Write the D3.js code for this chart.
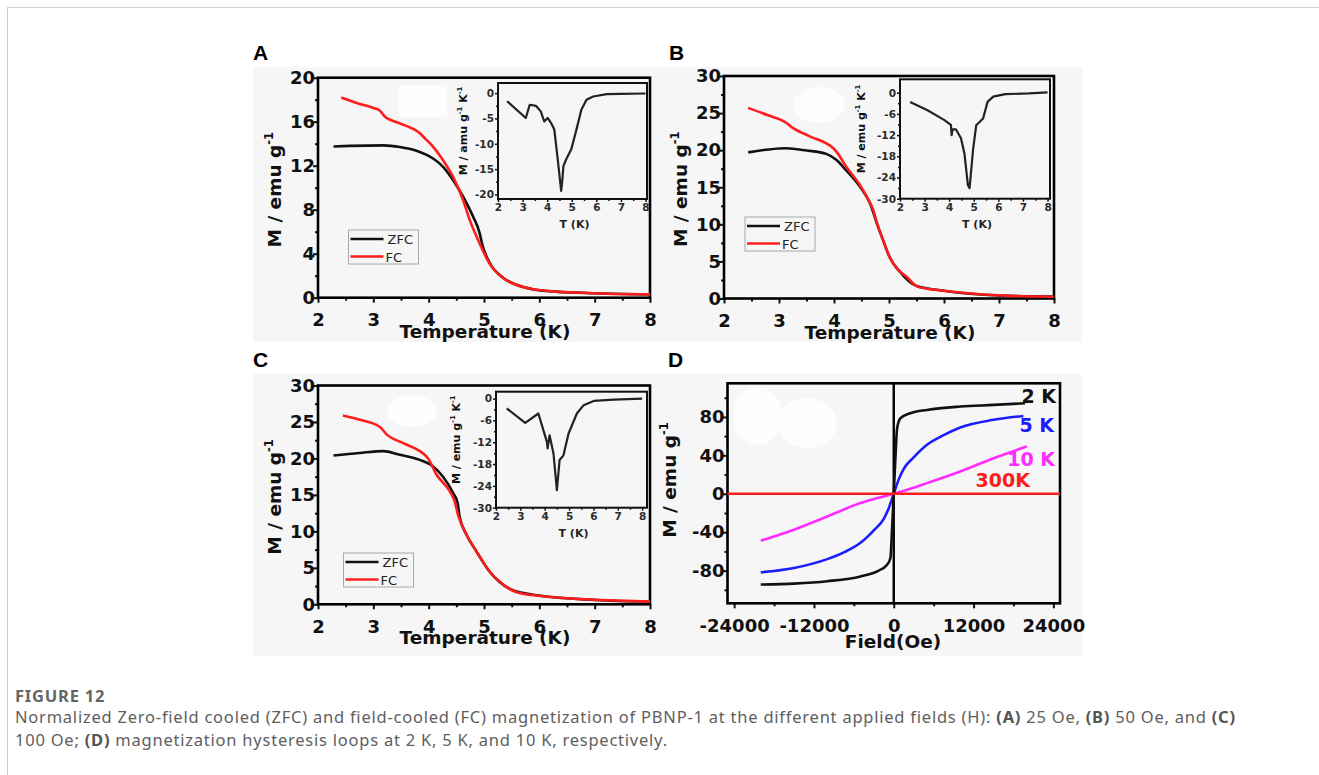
<!DOCTYPE html>
<html>
<head>
<meta charset="utf-8">
<script src="https://cdn.jsdelivr.net/npm/d3@7"></script>
<style>
  body { margin: 0; background: #fff; }
  svg { display: block; }
  .tick text { font-family: "DejaVu Sans", sans-serif; font-weight: bold; fill: #111; }
  .tick line { stroke: #111; }
</style>
</head>
<body>
<svg id="fig" width="1319" height="775"></svg>
<script>
// ---- data ----

// panel A (25 Oe)
const tA_FC = [2.42, 2.7, 3.0, 3.12, 3.2, 3.48, 3.84, 3.93, 4.05, 4.26, 4.44, 4.62, 4.74, 4.92, 5.1, 5.35, 5.59, 5.89, 6.31, 6.8, 7.4, 8.0];
const mA_FC = [18.2, 17.7, 17.25, 17.0, 16.5, 15.85, 14.95, 14.5, 13.9, 12.5, 11.0, 8.9, 7.1, 4.95, 3.1, 1.76, 1.15, 0.76, 0.55, 0.45, 0.33, 0.3];
const tA_ZFC = [2.28, 2.57, 3.18, 3.48, 3.78, 4.08, 4.26, 4.44, 4.62, 4.8, 4.92, 4.97, 5.1, 5.35, 5.6, 5.9, 6.3, 7.0, 8.0];
const mA_ZFC = [13.75, 13.8, 13.85, 13.7, 13.35, 12.65, 11.9, 10.7, 9.2, 7.4, 5.9, 4.8, 3.2, 1.8, 1.15, 0.75, 0.55, 0.4, 0.3];
const tA_ins = [2.37, 3.13, 3.29, 3.54, 3.74, 3.88, 4.02, 4.16, 4.29, 4.43, 4.57, 4.62, 4.66, 4.77, 4.98, 5.19, 5.39, 5.6, 5.87, 6.42, 6.97, 8.0];
const dA_ins = [-1.6, -4.9, -2.3, -2.5, -3.6, -5.6, -4.9, -5.9, -7.2, -13.1, -19.3, -17, -14.4, -13.1, -11.1, -7.2, -3.3, -1.3, -0.66, -0.2, -0.13, -0.07];

// panel B (50 Oe)
const tB_FC = [2.44, 2.8, 3.13, 3.25, 3.55, 3.98, 4.04, 4.22, 4.47, 4.59, 4.71, 4.8, 4.89, 5.01, 5.14, 5.32, 5.5, 5.68, 5.99, 6.6, 7.2, 8.0];
const mB_FC = [25.7, 24.7, 23.7, 23.0, 21.9, 20.3, 19.85, 17.8, 15.3, 13.8, 12.0, 9.7, 7.9, 5.6, 4.06, 2.93, 1.67, 1.35, 1.04, 0.6, 0.36, 0.23];
const tB_ZFC = [2.44, 2.82, 3.13, 3.5, 3.86, 4.04, 4.22, 4.47, 4.65, 4.8, 4.89, 5.01, 5.2, 5.5, 6.0, 7.0, 8.0];
const mB_ZFC = [19.7, 20.1, 20.25, 19.95, 19.5, 18.7, 17.3, 15.1, 12.9, 9.7, 7.9, 5.6, 3.6, 1.7, 1.05, 0.4, 0.25];
const tB_ins = [2.41, 3.1, 3.79, 4.07, 4.1, 4.14, 4.28, 4.48, 4.62, 4.76, 4.83, 4.97, 5.1, 5.38, 5.56, 5.79, 6.28, 7.24, 8.0];
const dB_ins = [-2.6, -4.9, -7.7, -9.1, -12.0, -10.4, -10.4, -12.9, -17.2, -26.1, -27.0, -16.2, -9.2, -7.3, -2.6, -1.1, -0.4, -0.2, 0.1];

// panel C (100 Oe)
const tC_FC = [2.45, 2.81, 3.12, 3.24, 3.54, 3.84, 3.99, 4.14, 4.38, 4.47, 4.53, 4.68, 4.86, 5.1, 5.35, 5.59, 5.95, 6.49, 7.1, 8.0];
const mC_FC = [25.9, 25.2, 24.3, 23.3, 22.1, 21.0, 20.0, 17.8, 15.5, 14.1, 12.3, 9.6, 7.3, 4.5, 2.7, 1.65, 1.2, 0.82, 0.6, 0.37];
const tC_ZFC = [2.28, 2.75, 3.18, 3.48, 3.84, 4.08, 4.26, 4.44, 4.52, 4.56, 4.68, 4.86, 5.1, 5.5, 6.0, 7.0, 8.0];
const mC_ZFC = [20.4, 20.75, 21.0, 20.5, 19.8, 18.9, 17.5, 15.3, 14.0, 12.0, 9.6, 7.3, 4.5, 2.0, 1.2, 0.6, 0.37];
const tC_ins = [2.44, 3.2, 3.74, 4.09, 4.12, 4.2, 4.36, 4.5, 4.61, 4.77, 4.98, 5.32, 5.6, 6.01, 6.84, 8.0];
const dC_ins = [-2.7, -6.7, -4.1, -11.9, -13.7, -10.1, -15.1, -25.2, -16.9, -15.6, -9.6, -4.1, -1.8, -0.64, -0.27, 0];

// panel D (hysteresis)
const h2K = [-20000, -15000, -10000, -5000, -2500, -1000, -500, -250, 0, 250, 500, 1000, 2500, 5000, 10000, 15000, 19750];
const m2K = [-94.5, -93.5, -91, -86, -80.7, -73.8, -66.8, -35.7, 0, 37, 68, 78.6, 83.8, 87.3, 90.8, 92.5, 94.2];
const h5K = [-20000, -15000, -10000, -7500, -5000, -3000, -1500, -750, 0, 750, 1500, 3000, 5000, 7500, 10000, 15000, 19500];
const m5K = [-81.7, -77.2, -68, -61, -51, -38, -26, -15, 0, 15, 26, 38, 51, 61, 69, 77, 81];
const h10K = [-20000, -15000, -10000, -5000, -2500, 0, 2500, 5000, 10000, 15000, 20000];
const m10K = [-48.8, -37.4, -23.6, -9.7, -4.5, 0, 5.2, 11.1, 23.2, 37, 49.2];
const h300K = [-25000, 0, 25000];
const m300K = [0, 0, 0];

const tempTicks = [2, 3, 4, 5, 6, 7, 8];
const tempMinor = [2.5, 3.5, 4.5, 5.5, 6.5, 7.5];
const yTicksA = [0, 4, 8, 12, 16, 20];
const yMinorA = [2, 6, 10, 14, 18];
const yTicksBC = [0, 5, 10, 15, 20, 25, 30];
const yMinorBC = [2.5, 7.5, 12.5, 17.5, 22.5, 27.5];
const insTicksA = [0, -5, -10, -15, -20];
const insMinorA = [-2.5, -7.5, -12.5, -17.5];
const insTicksBC = [0, -6, -12, -18, -24, -30];
const insMinorBC = [-3, -9, -15, -21, -27];
const fieldTicks = [-24000, -12000, 0, 12000, 24000];
const fieldMinor = [-18000, -6000, 6000, 18000];
const mTicksD = [-80, -40, 0, 40, 80];
const mMinorD = [-100, -60, -20, 20, 60, 100];

const RED = '#ff1c1c';
const BLACK = '#111';
const plain = d => String(d);  // keep ascii hyphen like the original

const svg = d3.select('#fig');

// page frame + figure background
svg.append('line').attr('x1', 7).attr('x2', 1319).attr('y1', 7.5).attr('y2', 7.5).attr('stroke', '#cfcfcf');
svg.append('line').attr('x1', 7.5).attr('x2', 7.5).attr('y1', 7).attr('y2', 775).attr('stroke', '#cfcfcf');
svg.append('rect').attr('x', 253).attr('y', 67).attr('width', 829).attr('height', 275).attr('fill', '#f6f6f6');
svg.append('rect').attr('x', 253).attr('y', 374).attr('width', 829).attr('height', 282).attr('fill', '#f6f6f6');

// whitish patches in the source image
svg.append('rect').attr('x', 399).attr('y', 85).attr('width', 48).attr('height', 32).attr('fill', '#fdfdfd');
[[819, 105, 26, 18], [412, 411, 25, 16], [758, 416, 25, 29], [807, 423, 30, 25]].forEach(e => {
    svg.append('ellipse').attr('cx', e[0]).attr('cy', e[1]).attr('rx', e[2]).attr('ry', e[3]).attr('fill', '#fdfdfd');
});

function panelLabel(txt, x, y) {
    svg.append('text').attr('x', x).attr('y', y).text(txt)
        .attr('font-family', '"Liberation Sans", Arial, sans-serif').attr('font-weight', 'bold')
        .attr('font-size', 21).attr('fill', '#000');
}

function zipPts(xs, ys) {
    return xs.map((v, i) => [v, ys[i]]);
}

// axes with major + minor outward ticks, no domain path
function drawAxes(g, x, y, o) {
    const y0 = y.range()[0];
    const x0 = x.range()[0];
    g.append('g').attr('transform', `translate(0,${y0})`)
        .call(d3.axisBottom(x).tickValues(o.xMinor).tickSize(o.minor).tickFormat(''))
        .call(a => a.select('.domain').remove())
        .selectAll('line').attr('stroke-width', o.tw);
    g.append('g').attr('transform', `translate(${x0},0)`)
        .call(d3.axisLeft(y).tickValues(o.yMinor).tickSize(o.minor).tickFormat(''))
        .call(a => a.select('.domain').remove())
        .selectAll('line').attr('stroke-width', o.tw);
    const xa = g.append('g').attr('transform', `translate(0,${y0})`)
        .call(d3.axisBottom(x).tickValues(o.xTicks).tickSize(o.major).tickPadding(o.xPad).tickFormat(plain))
        .call(a => a.select('.domain').remove());
    xa.selectAll('line').attr('stroke-width', o.tw);
    xa.selectAll('text').attr('font-size', o.fs).style('fill', o.color || '#111');
    const ya = g.append('g').attr('transform', `translate(${x0},0)`)
        .call(d3.axisLeft(y).tickValues(o.yTicks).tickSize(o.major).tickPadding(o.yPad).tickFormat(plain))
        .call(a => a.select('.domain').remove());
    ya.selectAll('line').attr('stroke-width', o.tw);
    ya.selectAll('text').attr('font-size', o.fs).style('fill', o.color || '#111');
    g.append('rect')
        .attr('x', x.range()[0]).attr('y', y.range()[1])
        .attr('width', x.range()[1] - x.range()[0]).attr('height', y.range()[0] - y.range()[1])
        .attr('fill', 'none').attr('stroke', o.frameColor || '#000').attr('stroke-width', o.frame);
}

function yTitle(g, x, y, size, parts) {
    const t = g.append('text').attr('transform', `translate(${x},${y}) rotate(-90)`)
        .attr('text-anchor', 'middle').attr('font-family', '"DejaVu Sans", sans-serif')
        .attr('font-weight', 'bold').attr('font-size', size).attr('fill', '#111');
    parts.forEach(p => {
        const s = t.append('tspan').text(p[0]);
        if (p[1]) s.attr('font-size', size * 0.62).attr('dy', -size * 0.45);
        if (p[2]) s.attr('dy', size * 0.45);
    });
}

function tempPanel(o) {
    const g = svg.append('g');
    const x = d3.scaleLinear().domain([2, 8]).range(o.xr);
    const y = d3.scaleLinear().domain(o.yd).range(o.yr);

    drawAxes(g, x, y, {
        xTicks: tempTicks, xMinor: tempMinor, yTicks: o.yTicks, yMinor: o.yMinor,
        major: 5, minor: 3, tw: 2, xPad: 10.5, yPad: -2, fs: 18, frame: 2.6
    });

    const line = d3.line().x(d => x(d[0])).y(d => y(d[1])).curve(d3.curveMonotoneX);
    g.append('path').datum(zipPts(o.tZ, o.mZ)).attr('d', line)
        .attr('fill', 'none').attr('stroke', BLACK).attr('stroke-width', 2.6);
    g.append('path').datum(zipPts(o.tF, o.mF)).attr('d', line)
        .attr('fill', 'none').attr('stroke', RED).attr('stroke-width', 2.6);

    // legend
    const lg = g.append('g').attr('transform', `translate(${o.leg[0]},${o.leg[1]})`);
    lg.append('rect').attr('width', 70).attr('height', 34).attr('fill', 'none')
        .attr('stroke', '#a8a8a8').attr('stroke-width', 1);
    [['ZFC', BLACK, 9], ['FC', RED, 26.5]].forEach((r, i) => {
        lg.append('line').attr('x1', 2).attr('x2', 35).attr('y1', r[2]).attr('y2', r[2])
            .attr('stroke', r[1]).attr('stroke-width', 2.6);
        lg.append('text').attr('x', i === 0 ? 39 : 37).attr('y', r[2] + 5).text(r[0])
            .attr('font-family', '"DejaVu Sans", sans-serif').attr('font-size', 13).attr('fill', '#222');
    });

    // titles
    g.append('text').attr('x', (o.xr[0] + o.xr[1]) / 2 + 1).attr('y', o.yr[0] + 40)
        .attr('text-anchor', 'middle').text('Temperature (K)')
        .attr('font-family', '"DejaVu Sans", sans-serif').attr('font-weight', 'bold')
        .attr('font-size', 18.5).attr('fill', '#111');
    yTitle(g, o.xr[0] - 37, (o.yr[0] + o.yr[1]) / 2 + 2, 18.5, [['M / emu g'], ['-1', true]]);

    // inset
    const ins = o.ins;
    const ix = d3.scaleLinear().domain(ins.xd).range(ins.xr);
    const iy = d3.scaleLinear().domain(ins.yd).range(ins.yr);
    drawAxes(g, ix, iy, {
        xTicks: tempTicks, xMinor: tempMinor, yTicks: ins.ticks, yMinor: ins.minor,
        major: 3, minor: 2, tw: 1.5, xPad: 1.5, yPad: 1, fs: 10.5, frame: 2, color: '#2a2a2a', frameColor: '#111'
    });
    const iline = d3.line().x(d => ix(d[0])).y(d => iy(d[1]));
    g.append('path').datum(zipPts(ins.t, ins.d)).attr('d', iline)
        .attr('fill', 'none').attr('stroke', '#222').attr('stroke-width', 2.2).attr('stroke-linejoin', 'round');
    g.append('text').attr('x', (ins.xr[0] + ins.xr[1]) / 2 + 2).attr('y', ins.yr[0] + 29)
        .attr('text-anchor', 'middle').text('T (K)')
        .attr('font-family', '"DejaVu Sans", sans-serif').attr('font-weight', 'bold')
        .attr('font-size', 11).attr('fill', '#222');
    yTitle(g, ins.xr[0] - ins.titleDx, (ins.yr[0] + ins.yr[1]) / 2 - 10, 11,
        [[ins.unit], ['-1', true], [' K', false, true], ['-1', true]]);
}

panelLabel('A', 253, 60);
tempPanel({
    xr: [318, 650], yd: [0, 20], yr: [297.7, 77.7], yTicks: yTicksA, yMinor: yMinorA,
    tF: tA_FC, mF: mA_FC, tZ: tA_ZFC, mZ: mA_ZFC, leg: [348.5, 230],
    ins: { xd: [2, 8.06], xr: [498, 647], yd: [-20.9, 2.0], yr: [199, 83], ticks: insTicksA, minor: insMinorA,
        t: tA_ins, d: dA_ins, unit: 'M / amu g', titleDx: 31 }
});

panelLabel('B', 669, 60);
tempPanel({
    xr: [724, 1054], yd: [0, 30], yr: [298.5, 76], yTicks: yTicksBC, yMinor: yMinorBC,
    tF: tB_FC, mF: mB_FC, tZ: tB_ZFC, mZ: mB_ZFC, leg: [745, 217],
    ins: { xd: [2, 8.1], xr: [900, 1050], yd: [-30, 3.8], yr: [198.7, 79.3], ticks: insTicksBC, minor: insMinorBC,
        t: tB_ins, d: dB_ins, unit: 'M / emu g', titleDx: 35 }
});

panelLabel('C', 253, 367);
tempPanel({
    xr: [318, 650], yd: [0, 30], yr: [604.3, 385.5], yTicks: yTicksBC, yMinor: yMinorBC,
    tF: tC_FC, mF: mC_FC, tZ: tC_ZFC, mZ: mC_ZFC, leg: [343.5, 553],
    ins: { xd: [2, 8.2], xr: [496, 647], yd: [-30, 1.9], yr: [507.7, 391.7], ticks: insTicksBC, minor: insMinorBC,
        t: tC_ins, d: dC_ins, unit: 'M / emu g', titleDx: 36 }
});

// ---- panel D ----
panelLabel('D', 668, 367);
const gD = svg.append('g');
const xD = d3.scaleLinear().domain([-25000, 25000]).range([727.5, 1060]);
const yD = d3.scaleLinear().domain([-114, 115]).range([603.3, 383.3]);
drawAxes(gD, xD, yD, {
    xTicks: fieldTicks, xMinor: fieldMinor, yTicks: mTicksD, yMinor: mMinorD,
    major: 5, minor: 3, tw: 2, xPad: 10.5, yPad: -2, fs: 18, frame: 2.6
});
const lineD = d3.line().x(d => xD(d[0])).y(d => yD(d[1]));
gD.append('line').attr('x1', xD(0)).attr('x2', xD(0)).attr('y1', yD.range()[0]).attr('y2', yD.range()[1])
    .attr('stroke', '#000').attr('stroke-width', 2.4);
const loops = [
    [h10K, m10K, '#ff2cff', '10 K', 1055, 466],
    [h5K, m5K, '#1c1cff', '5 K', 1054, 432],
    [h2K, m2K, BLACK, '2 K', 1056, 403],
    [h300K, m300K, RED, '300K', 1030, 487]
];
loops.forEach(s => {
    gD.append('path').datum(zipPts(s[0], s[1])).attr('d', lineD.curve(s[3] === '300K' ? d3.curveLinear : d3.curveMonotoneX))
        .attr('fill', 'none').attr('stroke', s[2]).attr('stroke-width', 2.6);
});
loops.forEach(s => {
    gD.append('text').attr('x', s[4]).attr('y', s[5]).attr('text-anchor', 'end').text(s[3])
        .attr('font-family', '"DejaVu Sans", sans-serif').attr('font-weight', 'bold')
        .attr('font-size', 19).attr('fill', s[2]);
});
gD.append('text').attr('x', 893).attr('y', 648).attr('text-anchor', 'middle').text('Field(Oe)')
    .attr('font-family', '"DejaVu Sans", sans-serif').attr('font-weight', 'bold')
    .attr('font-size', 18.5).attr('fill', '#111');
yTitle(gD, 676, 480, 18.5, [['M / emu g'], ['-1', true]]);

// ---- caption ----
const capFont = '"Noto Sans", "Open Sans", sans-serif';
svg.append('text').attr('x', 15).attr('y', 702).text('FIGURE 12')
    .attr('font-family', capFont).attr('font-weight', 'bold').attr('font-size', 16.5)
    .attr('letter-spacing', 0.8).attr('fill', '#666');
const capLines = [
    [['Normalized Zero-field cooled (ZFC) and field-cooled (FC) magnetization of PBNP-1 at the different applied fields (H): '], ['(A)', 1], [' 25 Oe, '], ['(B)', 1], [' 50 Oe, and '], ['(C)', 1]],
    [['100 Oe; '], ['(D)', 1], [' magnetization hysteresis loops at 2 K, 5 K, and 10 K, respectively.']]
];
capLines.forEach((ln, i) => {
    const t = svg.append('text').attr('x', 15).attr('y', 723 + i * 23)
        .attr('font-family', capFont).attr('font-size', 16.5).attr('letter-spacing', 0.77)
        .attr('fill', '#5e5e5e');
    ln.forEach(p => {
        const s = t.append('tspan').text(p[0]);
        if (p[1]) s.attr('font-weight', 'bold').attr('fill', '#555');
    });
});
</script>
</body>
</html>
